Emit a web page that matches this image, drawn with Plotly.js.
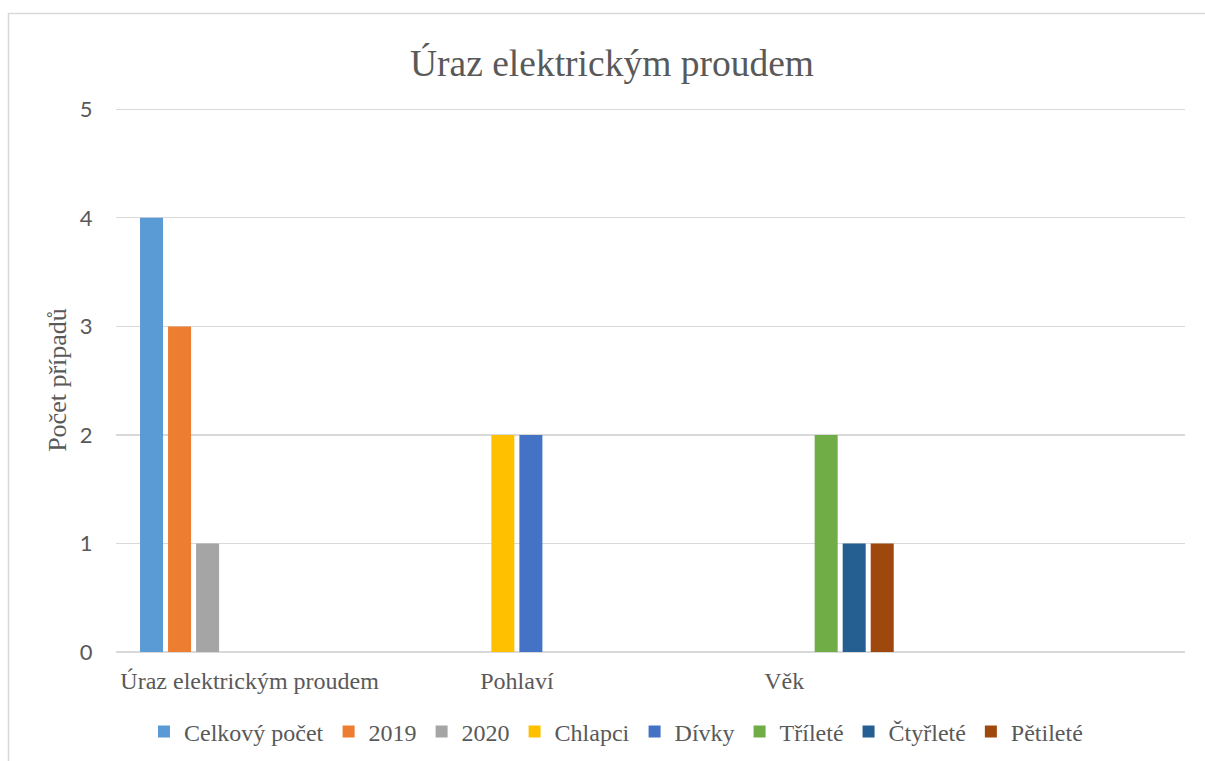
<!DOCTYPE html>
<html>
<head>
<meta charset="utf-8">
<script src="https://cdn.plot.ly/plotly-3.0.1.min.js"></script>
<style>
  html, body { margin: 0; padding: 0; background: #ffffff; }
  #chart { width: 1205px; height: 761px; }
</style>
</head>
<body>
<div id="chart"></div>
<script>
// Categories on the x axis (a fourth, empty slot is kept by the axis range)
const categories = ['Úraz elektrickým proudem', 'Pohlaví', 'Věk'];

// Series values per category
const celkovyPocet = [4, null, null];
const rok2019      = [3, null, null];
const rok2020      = [1, null, null];
const chlapci      = [null, 2, null];
const divky        = [null, 2, null];
const trilete      = [null, null, 2];
const ctyrlete     = [null, null, 1];
const petilete     = [null, null, 1];

const seriesNames = ['Celkový počet', '2019', '2020', 'Chlapci', 'Dívky', 'Tříleté', 'Čtyřleté', 'Pětileté'];
const seriesValues = [celkovyPocet, rok2019, rok2020, chlapci, divky, trilete, ctyrlete, petilete];
const seriesColors = ['#5B9BD5', '#ED7D31', '#A5A5A5', '#FFC000', '#4472C4', '#70AD47', '#255E91', '#9E480E'];

const yTickValues = [0, 1, 2, 3, 4, 5];

const textGray = '#595959';
const gridGray = '#D9D9D9';
const serif = '"Liberation Serif", "Times New Roman", serif';

// plot area geometry (pixels)
const M = { l: 116, r: 20, t: 108, b: 109 };
const plotW = 1205 - M.l - M.r;
const plotH = 761 - M.t - M.b;
const plotBottom = 761 - M.b;

const traces = seriesNames.map((name, i) => ({
  type: 'bar',
  name: name,
  x: categories,
  y: seriesValues[i],
  marker: { color: seriesColors[i], line: { width: 0 } },
  hoverinfo: 'name+y'
}));

const layout = {
  width: 1205,
  height: 761,
  margin: { l: M.l, r: M.r, t: M.t, b: M.b, autoexpand: false },
  paper_bgcolor: '#ffffff',
  plot_bgcolor: '#ffffff',
  barmode: 'group',
  bargap: 0.161,
  bargroupgap: 0.179,
  showlegend: true,
  title: {
    text: 'Úraz elektrickým proudem',
    font: { family: serif, size: 37.5, color: textGray },
    xref: 'container', x: 612 / 1205, xanchor: 'center',
    yref: 'container', y: 1 - 63 / 761, yanchor: 'middle'
  },
  xaxis: {
    type: 'category',
    categoryorder: 'array',
    categoryarray: categories,
    range: [-0.5, 3.5],
    automargin: false,
    showgrid: false,
    zeroline: false,
    showline: false,
    ticks: 'outside',
    ticklen: 7,
    tickcolor: 'rgba(0,0,0,0)',
    tickfont: { family: serif, size: 24, color: textGray },
    fixedrange: true
  },
  yaxis: {
    // slight headroom so the top gridline is not clipped at the edge
    range: [0, 5.012],
    tickvals: yTickValues,
    ticktext: yTickValues.map(String),
    automargin: false,
    showgrid: true,
    gridcolor: gridGray,
    gridwidth: 1.3,
    zeroline: true,
    zerolinecolor: gridGray,
    zerolinewidth: 1.3,
    showline: false,
    ticks: 'outside',
    ticklen: 18,
    tickcolor: 'rgba(0,0,0,0)',
    tickfont: { family: 'Lato, "Open Sans", sans-serif', size: 22, color: textGray },
    title: {
      text: 'Počet případů',
      font: { family: serif, size: 26, color: textGray },
      standoff: 5
    },
    fixedrange: true
  },
  legend: {
    orientation: 'h',
    x: 0.4677,
    xanchor: 'center',
    y: (plotBottom - 732) / plotH,
    yanchor: 'middle',
    font: { family: serif, size: 24, color: textGray },
    bgcolor: 'rgba(0,0,0,0)',
    traceorder: 'normal'
  },
  shapes: [{
    // chart-area frame
    type: 'rect',
    xref: 'paper', yref: 'paper',
    x0: (8.5 - M.l) / plotW, x1: 1.2,
    y0: -0.5, y1: (plotBottom - 13.5) / plotH,
    line: { color: gridGray, width: 1.5 },
    fillcolor: 'rgba(0,0,0,0)',
    layer: 'below'
  }]
};

Plotly.newPlot('chart', traces, layout, { displayModeBar: false, staticPlot: true });
</script>
</body>
</html>
